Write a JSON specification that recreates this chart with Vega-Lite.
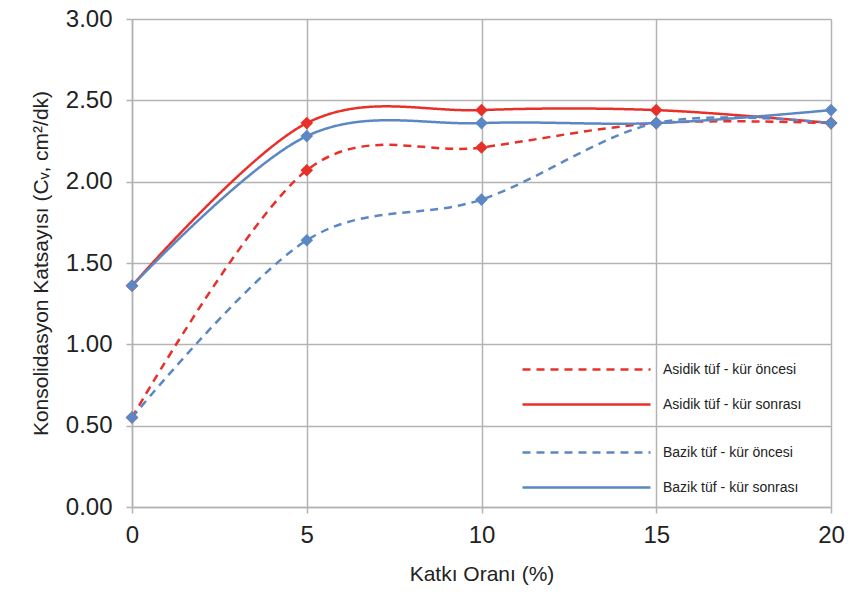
{
  "$schema": "https://vega.github.io/schema/vega-lite/v6.json",
  "width": 699,
  "height": 488,
  "autosize": {"type": "none"},
  "padding": {"left": 132, "top": 19, "right": 21, "bottom": 87},
  "background": "white",
  "config": {
    "font": "Liberation Sans",
    "view": {"stroke": null},
    "axis": {
      "gridColor": "#b3b3b3",
      "gridWidth": 1.5,
      "domainColor": "#b3b3b3",
      "domainWidth": 1.5,
      "tickColor": "#b3b3b3",
      "tickWidth": 1.5,
      "tickSize": 6,
      "labelFlush": false,
      "labelFont": "Liberation Sans",
      "labelFontSize": 24,
      "labelColor": "#222222",
      "titleFont": "Liberation Sans",
      "titleFontSize": 21,
      "titleFontWeight": "normal",
      "titleColor": "#222222"
    },
    "legend": {
      "labelFont": "Liberation Sans",
      "labelFontSize": 14,
      "labelColor": "#222222",
      "symbolType": "M-8,0H8",
      "symbolSize": 256,
      "symbolStrokeWidth": 2.5,
      "symbolFillColor": "transparent",
      "labelOffset": 67,
      "rowPadding": 18,
      "padding": 0
    }
  },
  "data": {
    "values": [
      {"katki": 0, "seri": "Asidik tüf - kür öncesi", "grup": "Asidik", "cv": 0.55},
      {"katki": 5, "seri": "Asidik tüf - kür öncesi", "grup": "Asidik", "cv": 2.07},
      {"katki": 10, "seri": "Asidik tüf - kür öncesi", "grup": "Asidik", "cv": 2.21},
      {"katki": 15, "seri": "Asidik tüf - kür öncesi", "grup": "Asidik", "cv": 2.36},
      {"katki": 20, "seri": "Asidik tüf - kür öncesi", "grup": "Asidik", "cv": 2.36},
      {"katki": 0, "seri": "Asidik tüf - kür sonrası", "grup": "Asidik", "cv": 1.36},
      {"katki": 5, "seri": "Asidik tüf - kür sonrası", "grup": "Asidik", "cv": 2.36},
      {"katki": 10, "seri": "Asidik tüf - kür sonrası", "grup": "Asidik", "cv": 2.44},
      {"katki": 15, "seri": "Asidik tüf - kür sonrası", "grup": "Asidik", "cv": 2.44},
      {"katki": 20, "seri": "Asidik tüf - kür sonrası", "grup": "Asidik", "cv": 2.36},
      {"katki": 0, "seri": "Bazik tüf - kür öncesi", "grup": "Bazik", "cv": 0.55},
      {"katki": 5, "seri": "Bazik tüf - kür öncesi", "grup": "Bazik", "cv": 1.64},
      {"katki": 10, "seri": "Bazik tüf - kür öncesi", "grup": "Bazik", "cv": 1.89},
      {"katki": 15, "seri": "Bazik tüf - kür öncesi", "grup": "Bazik", "cv": 2.36},
      {"katki": 20, "seri": "Bazik tüf - kür öncesi", "grup": "Bazik", "cv": 2.36},
      {"katki": 0, "seri": "Bazik tüf - kür sonrası", "grup": "Bazik", "cv": 1.36},
      {"katki": 5, "seri": "Bazik tüf - kür sonrası", "grup": "Bazik", "cv": 2.28},
      {"katki": 10, "seri": "Bazik tüf - kür sonrası", "grup": "Bazik", "cv": 2.36},
      {"katki": 15, "seri": "Bazik tüf - kür sonrası", "grup": "Bazik", "cv": 2.36},
      {"katki": 20, "seri": "Bazik tüf - kür sonrası", "grup": "Bazik", "cv": 2.44}
    ]
  },
  "encoding": {
    "x": {
      "field": "katki",
      "type": "quantitative",
      "scale": {"domain": [0, 20], "nice": false, "zero": false},
      "axis": {"values": [0, 5, 10, 15, 20], "title": "Katkı Oranı (%)", "labelPadding": 10, "titlePadding": 16}
    },
    "y": {
      "field": "cv",
      "type": "quantitative",
      "scale": {"domain": [0, 3], "nice": false},
      "axis": {"values": [0, 0.5, 1, 1.5, 2, 2.5, 3], "format": ".2f", "title": "Konsolidasyon Katsayısı (Cᵥ, cm²/dk)", "labelPadding": 14, "titlePadding": 14}
    }
  },
  "layer": [
    {
      "transform": [{"filter": "datum.grup === 'Asidik'"}],
      "mark": {"type": "line", "interpolate": "cardinal", "strokeWidth": 2.5},
      "encoding": {
        "color": {
          "field": "seri", "type": "nominal",
          "scale": {"domain": ["Asidik tüf - kür öncesi", "Asidik tüf - kür sonrası"], "range": ["#e8302a", "#e8302a"]},
          "legend": {"title": null, "orient": "none", "legendX": 445, "legendY": 341}
        },
        "strokeDash": {
          "field": "seri", "type": "nominal",
          "scale": {"domain": ["Asidik tüf - kür öncesi", "Asidik tüf - kür sonrası"], "range": [[8, 6], [1, 0]]},
          "legend": {"title": null, "orient": "none", "legendX": 445, "legendY": 341}
        }
      }
    },
    {
      "transform": [{"filter": "datum.grup === 'Bazik'"}],
      "mark": {"type": "line", "interpolate": "cardinal", "strokeWidth": 2.5},
      "encoding": {
        "color": {
          "field": "seri", "type": "nominal",
          "scale": {"domain": ["Bazik tüf - kür öncesi", "Bazik tüf - kür sonrası"], "range": ["#5b87c5", "#5b87c5"]},
          "legend": {"title": null, "orient": "none", "legendX": 445, "legendY": 424}
        },
        "strokeDash": {
          "field": "seri", "type": "nominal",
          "scale": {"domain": ["Bazik tüf - kür öncesi", "Bazik tüf - kür sonrası"], "range": [[8, 6], [1, 0]]},
          "legend": {"title": null, "orient": "none", "legendX": 445, "legendY": 424}
        }
      }
    },
    {
      "transform": [{"filter": "datum.grup === 'Asidik'"}],
      "mark": {"type": "point", "shape": "diamond", "filled": true, "size": 160, "color": "#e8302a", "opacity": 1}
    },
    {
      "transform": [{"filter": "datum.grup === 'Bazik'"}],
      "mark": {"type": "point", "shape": "diamond", "filled": true, "size": 160, "color": "#5b87c5", "opacity": 1}
    }
  ],
  "resolve": {
    "scale": {"color": "independent", "strokeDash": "independent"},
    "legend": {"color": "independent", "strokeDash": "independent"}
  }
}
